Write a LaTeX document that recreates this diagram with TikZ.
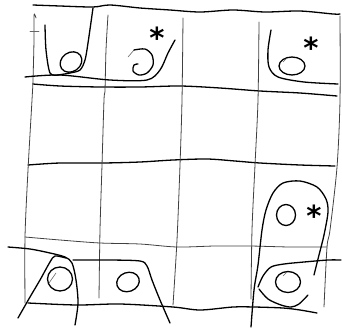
\documentclass[tikz,border=0pt]{standalone}
\usepackage{fontspec}
\newfontfamily\starfont{DejaVu Sans}
\begin{document}
\begin{tikzpicture}[x=1pt,y=-1pt,
  gridline/.style={line width=0.8pt,black!75,line cap=round},
  ink/.style={line width=1.3pt,black,line cap=round,line join=round},
  faint/.style={line width=0.6pt,black!60,line cap=round},
  starmark/.style={inner sep=0pt,anchor=base,font=\starfont\bfseries\fontsize{29}{29}\selectfont}]
\useasboundingbox (0,0) rectangle (342,327);
% ---- grid: horizontal lines ----
\draw[ink] plot[smooth] coordinates {(33,5) (60,6) (93,7) (110,5) (140,8) (170,10) (200,12) (233,10) (265,12) (300,11) (333,14) (340,14)};
\draw[ink] plot[smooth] coordinates {(33,84) (60,86) (100,87) (140,87) (180,86) (220,88) (260,91) (300,93) (337,96)};
\draw[ink] plot[smooth] coordinates {(28,165) (60,163) (103,163) (140,162) (173,160) (207,159) (235,161) (260,163) (300,165) (335,166)};
\draw[gridline] plot[smooth] coordinates {(25,237) (60,240) (100,243) (140,244) (177,247) (215,246) (250,246) (290,247) (327,247)};
\draw[ink] plot[smooth] coordinates {(28,303) (77,305) (120,304) (173,307) (200,310) (233,307) (254,307) (283,308) (300,310) (317,313)};
% ---- grid: vertical lines ----
\draw[gridline] plot[smooth] coordinates {(36,18) (34,15) (34,40) (33,80) (32,100) (28,170) (25,237) (25,303)};
\draw[faint] (30,31) -- (39,31);
\draw[gridline] plot[smooth] coordinates {(108,15) (106,50) (105,90) (104,100) (102,165) (100,230) (99,298)};
\draw[gridline] plot[smooth] coordinates {(183,18) (182,100) (180,165) (177,240) (173,305)};
\draw[gridline] plot[smooth] coordinates {(259,22) (258,100) (255,165) (252,230) (251,299)};
\draw[gridline] plot[smooth] coordinates {(340,16) (340,100) (337,167) (330,230) (327,247) (324,307)};
% ---- top-left enclosures ----
\draw[ink] plot[smooth] coordinates {(45,25) (46,50) (50,73) (58,75)};
\draw[ink] plot[smooth] coordinates {(93,8) (88,43) (85,60) (80,70) (70,73) (58,75)};
\draw[ink] plot[smooth] coordinates {(25,77) (60,75) (110,80) (147,80) (160,70) (168,53) (175,40)};
\draw[ink,rotate around={35:(71,62)}] (71,62) ellipse [x radius=11.5, y radius=9.5];
\draw[faint] plot[smooth] coordinates {(128,57) (134,50)};
\draw[ink] plot[smooth] coordinates {(134,50) (145,49) (152,55) (153,65) (147,73) (139,75) (133,71) (134,65) (138,64)};
\node[starmark] (s1) at (157,48.5) {*};
% ---- top-right enclosure ----
\draw[ink] plot[smooth] coordinates {(271,30) (268,50) (269,67) (278,77) (304,82) (338,84)};
\draw[ink] (292,66) ellipse [x radius=13, y radius=9];
\draw[faint] (283,62) -- (287,58);
\node[starmark] (s2) at (311,58.5) {*};
% ---- middle-right enclosure ----
\draw[ink] plot[smooth] coordinates {(251,327) (254,290) (258,265) (262,230) (266,210) (273,193) (283,183) (300,181) (317,187) (326,199) (328,212) (324,235) (319,255) (314,275)};
\draw[ink] (286,215) ellipse [x radius=9.5, y radius=10.5];
\node[starmark] (s3) at (314,226.5) {*};
% ---- bottom-right enclosure ----
\draw[ink] plot[smooth] coordinates {(258,287) (263,276) (271,267) (284,264) (304,262) (328,260) (341,260)};
\draw[ink] plot[smooth] coordinates {(259,289) (268,299) (281,305) (291,307) (299,304) (308,295)};
\draw[ink] (288,282) ellipse [x radius=12.5, y radius=10.5];
\draw[faint] (283,276) -- (287,272);
% ---- bottom-left enclosures ----
\draw[ink] plot[smooth] coordinates {(8,247) (30,249) (50,253) (65,257) (72,263) (76,280) (78,303) (75,325)};
\draw[ink] plot[smooth] coordinates {(66,258) (55,256) (50,262) (40,280) (30,297) (18,318)};
\draw[ink] plot[smooth] coordinates {(73,260) (110,260) (140,261) (147,266) (152,280) (160,300) (170,323)};
\draw[ink] (60,279) ellipse [x radius=12.5, y radius=12];
\draw[faint] (49,283) -- (56,273);
\draw[ink,rotate around={20:(128,282)}] (128,282) ellipse [x radius=11.5, y radius=9.5];
\end{tikzpicture}
\end{document}
